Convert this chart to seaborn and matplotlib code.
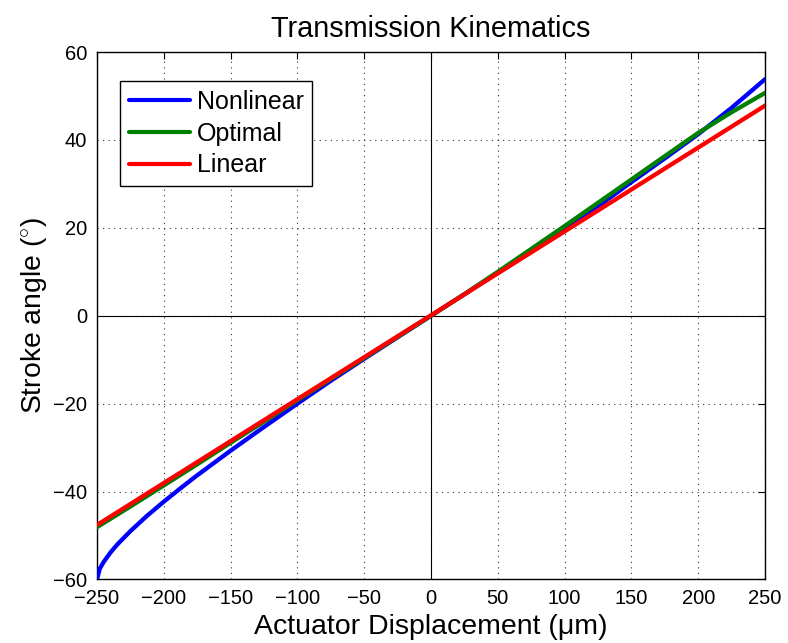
import matplotlib
matplotlib.use("Agg")
import matplotlib.pyplot as plt
import seaborn as sns
import pandas as pd

# Actuator displacement (µm) and resulting stroke angle (deg) for each transmission model
nonlinear_x = [-250, -248, -245, -240, -235, -225, -212.5, -200, -187.5, -175, -150,
               -125, -100, -75, -50, -25, 0, 25, 50, 75, 100, 125, 150, 175, 200,
               225, 250]
nonlinear = [-60.0, -57.6, -56.0, -53.9, -52.1, -49.0, -45.5, -42.3, -39.25, -36.3, -30.7,
             -25.3, -20.0, -14.8, -9.8, -4.9, 0.0, 4.9, 9.8, 14.7, 19.7, 24.9, 30.4,
             35.8, 41.3, 47.3, 53.8]
optimal_x = [-250, -225, -200, -175, -150, -125, -100, -75, -50, -25, 0, 25, 50, 75, 100,
             125, 150, 175, 200, 225, 250]
optimal = [-48.1, -43.4, -38.6, -33.8, -28.9, -24.1, -19.2, -14.4, -9.6, -4.8, 0.0, 4.9,
           10.0, 15.2, 20.4, 25.7, 31.0, 36.3, 41.6, 46.3, 50.7]
linear_x = [-250, 250]
linear = [-47.6, 47.8]

series_names = ["Nonlinear", "Optimal", "Linear"]
series_colors = ["#0000ff", "#008000", "#ff0000"]

xticks = [-250, -200, -150, -100, -50, 0, 50, 100, 150, 200, 250]
yticks = [-60, -40, -20, 0, 20, 40, 60]

df = pd.concat([
    pd.DataFrame({"x": nonlinear_x, "y": nonlinear, "model": "Nonlinear"}),
    pd.DataFrame({"x": optimal_x, "y": optimal, "model": "Optimal"}),
    pd.DataFrame({"x": linear_x, "y": linear, "model": "Linear"}),
], ignore_index=True)

sns.set_theme(style="white")
plt.rcParams["font.family"] = ["Liberation Sans", "DejaVu Sans"]
plt.rcParams["mathtext.fontset"] = "custom"
plt.rcParams["mathtext.rm"] = "Liberation Sans"
plt.rcParams["text.color"] = "black"
plt.rcParams["axes.labelcolor"] = "black"

fig = plt.figure(figsize=(7.88, 6.43), dpi=100)
ax = fig.add_axes([0.1231, 0.0988, 0.8477, 0.8203])

# crosshair through the origin
ax.axhline(0, color="black", lw=0.8, zorder=1)
ax.axvline(0, color="black", lw=0.8, zorder=1)

sns.lineplot(data=df, x="x", y="y", hue="model", hue_order=series_names,
             palette=series_colors, linewidth=3.1, sort=False, estimator=None,
             ax=ax, zorder=3)

ax.set_xlim(-250, 250)
ax.set_ylim(-60, 60)
ax.set_xticks(xticks)
ax.set_yticks(yticks)
ax.grid(True, color="black", linestyle=(0, (1, 4)), linewidth=0.8, alpha=0.8)
ax.set_axisbelow(True)

for s in ax.spines.values():
    s.set_visible(True)
    s.set_color("black")
    s.set_linewidth(1.0)
ax.tick_params(direction="in", length=5, width=0.8, top=True, right=True,
               labelsize=14.5, colors="black", pad=7)

ax.set_title("Transmission Kinematics", fontsize=20.8, pad=11, color="black")
ax.set_xlabel("Actuator Displacement (μm)", fontsize=20.5, labelpad=4.5)
ax.set_ylabel("Stroke angle ($^{\\circ}$)", fontsize=20.4, labelpad=2)

leg = ax.legend(title=None, loc="upper left", bbox_to_anchor=(0.035, 0.945),
                fontsize=18, frameon=True, fancybox=False, framealpha=1,
                edgecolor="black", handlelength=2.45, handletextpad=0.25,
                borderpad=0.35, labelspacing=0.31, borderaxespad=0)
leg.get_frame().set_linewidth(1.0)
for line in leg.get_lines():
    line.set_linewidth(3)
for t in leg.get_texts():
    t.set_color("black")

fig.savefig("out.png", dpi=100)
